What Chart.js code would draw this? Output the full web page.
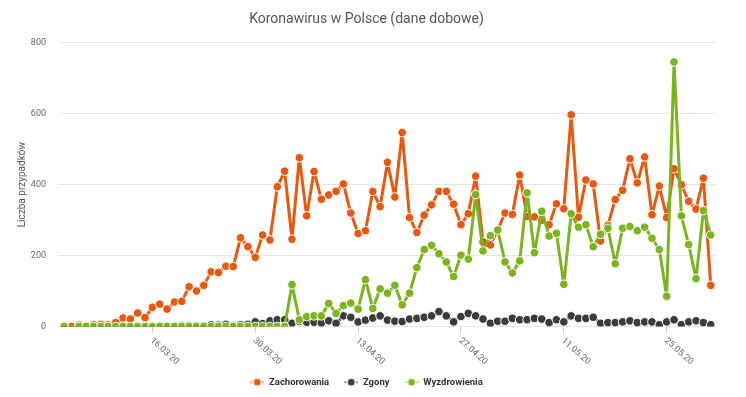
<!DOCTYPE html>
<html>
<head>
<meta charset="utf-8">
<script src="https://cdn.jsdelivr.net/npm/chart.js@4"></script>
<style>
  html, body { margin: 0; padding: 0; background: #fff; }
  #wrap { width: 746px; height: 397px; position: relative; }
</style>
</head>
<body>
<div id="wrap"><canvas id="dailyChart"></canvas></div>
<script>
// daily data, 04.03.20 - 31.05.20
const dates = [
  '04.03.20','05.03.20','06.03.20','07.03.20','08.03.20','09.03.20','10.03.20','11.03.20','12.03.20','13.03.20',
  '14.03.20','15.03.20','16.03.20','17.03.20','18.03.20','19.03.20','20.03.20','21.03.20','22.03.20','23.03.20',
  '24.03.20','25.03.20','26.03.20','27.03.20','28.03.20','29.03.20','30.03.20','31.03.20',
  '01.04.20','02.04.20','03.04.20','04.04.20','05.04.20','06.04.20','07.04.20','08.04.20','09.04.20','10.04.20',
  '11.04.20','12.04.20','13.04.20','14.04.20','15.04.20','16.04.20','17.04.20','18.04.20','19.04.20','20.04.20',
  '21.04.20','22.04.20','23.04.20','24.04.20','25.04.20','26.04.20','27.04.20','28.04.20','29.04.20','30.04.20',
  '01.05.20','02.05.20','03.05.20','04.05.20','05.05.20','06.05.20','07.05.20','08.05.20','09.05.20','10.05.20',
  '11.05.20','12.05.20','13.05.20','14.05.20','15.05.20','16.05.20','17.05.20','18.05.20','19.05.20','20.05.20',
  '21.05.20','22.05.20','23.05.20','24.05.20','25.05.20','26.05.20','27.05.20','28.05.20','29.05.20','30.05.20',
  '31.05.20'
];
const tickLabels = ['16.03.20', '30.03.20', '13.04.20', '27.04.20', '11.05.20', '25.05.20'];

const cases = [
  1, 0, 4, 1, 5, 6, 5, 11, 24, 21,
  38, 25, 54, 63, 49, 69, 71, 112, 100, 116,
  154, 152, 170, 169, 250, 225, 195, 258, 244, 394,
  438, 246, 476, 312, 437, 359, 371, 381, 402, 320,
  262, 270, 381, 338, 463, 365, 547, 307, 265, 314,
  343, 381, 381, 345, 287, 318, 424, 239, 230, 272,
  320, 316, 427, 310, 309, 300, 287, 346, 332, 597,
  308, 413, 402, 241, 285, 358, 384, 473, 405, 478,
  315, 396, 307, 445, 400, 353, 331, 418, 116
];
const deaths = [
  0, 0, 0, 0, 0, 0, 0, 0, 1, 0,
  1, 1, 0, 2, 1, 1, 3, 3, 2, 2,
  5, 4, 6, 3, 5, 6, 13, 8, 16, 19,
  19, 9, 14, 12, 12, 10, 16, 9, 30, 26,
  13, 18, 24, 30, 18, 15, 14, 21, 23, 26,
  30, 42, 30, 13, 28, 37, 30, 21, 9, 15,
  15, 23, 19, 19, 23, 21, 11, 19, 13, 30,
  23, 23, 26, 9, 11, 11, 13, 16, 11, 13,
  13, 5, 13, 19, 5, 13, 16, 11, 5
];
const recovered = [
  0, null, 0, 0, 0, 0, 0, 0, 0, 0,
  0, 0, 0, 0, 0, 0, 0, 0, 0, 0,
  0, 0, 0, 0, 0, 0, 0, 0, 0, 0,
  0, 118, 19, 28, 30, 30, 65, 37, 59, 66,
  49, 132, 51, 106, 94, 116, 61, 94, 166, 217,
  229, 205, 182, 141, 201, 190, 372, 213, 256, 272,
  182, 151, 185, 377, 208, 325, 255, 263, 119, 318,
  280, 287, 225, 260, 277, 177, 277, 282, 270, 280,
  249, 217, 85, 746, 312, 231, 135, 327, 258
];

const seriesNames = ['Zachorowania', 'Zgony', 'Wyzdrowienia'];
const seriesColors = ['#e8590f', '#3b3b3b', '#7ab51d'];

const chartEl = document.getElementById('dailyChart');

const toPoints = (arr) => arr.map((v, i) => ({ x: i, y: v }));

// legend marker: short line with a dot
const legendMarker = function (color) {
  const c = document.createElement('canvas');
  c.width = 14; c.height = 10;
  const g = c.getContext('2d');
  g.globalAlpha = 0.45;
  g.strokeStyle = color;
  g.lineWidth = 2;
  g.beginPath(); g.moveTo(0, 5); g.lineTo(14, 5); g.stroke();
  g.globalAlpha = 1;
  g.fillStyle = color;
  g.strokeStyle = '#fff';
  g.lineWidth = 1;
  g.beginPath(); g.arc(7, 5, 4, 0, Math.PI * 2); g.fill(); g.stroke();
  return c;
};

const makeDataset = (idx, values, order) => ({
  label: seriesNames[idx],
  data: toPoints(values),
  borderColor: seriesColors[idx],
  backgroundColor: seriesColors[idx],
  pointBackgroundColor: seriesColors[idx],
  pointBorderColor: '#fff',
  pointBorderWidth: 1,
  pointRadius: 4.3,
  borderWidth: 3,
  borderJoinStyle: 'round',
  spanGaps: true,
  order: order
});

// rotated date labels under the axis (start at the tick, go down-right)
const xLabels = {
  id: 'xLabels',
  afterDraw(chart) {
    const ctx = chart.ctx;
    const x = chart.scales.x;
    ctx.save();
    ctx.font = '9px Roboto';
    ctx.fillStyle = '#666';
    ctx.textAlign = 'left';
    ctx.textBaseline = 'middle';
    tickLabels.forEach((label) => {
      const px = x.getPixelForValue(dates.indexOf(label));
      ctx.save();
      ctx.translate(px - 1, x.top + 13);
      ctx.rotate(42 * Math.PI / 180);
      ctx.fillText(label, 0, 0);
      ctx.restore();
    });
    ctx.restore();
  }
};

new Chart(chartEl, {
  type: 'line',
  data: {
    datasets: [
      makeDataset(0, cases, 1),
      makeDataset(1, deaths, 2),
      makeDataset(2, recovered, 0)
    ]
  },
  plugins: [xLabels],
  options: {
    responsive: true,
    maintainAspectRatio: false,
    animation: false,
    layout: { padding: { left: 16, right: 29, top: 0, bottom: 0 } },
    plugins: {
      title: {
        display: true,
        text: 'Koronawirus w Polsce (dane dobowe)',
        color: '#555',
        font: { family: 'Roboto', size: 14, weight: 'normal' },
        padding: { top: 11, bottom: 15 }
      },
      legend: {
        position: 'bottom',
        labels: {
          usePointStyle: true,
          pointStyleWidth: 14,
          boxHeight: 10,
          padding: 15,
          color: '#333',
          font: { family: 'Roboto', size: 9.5, weight: 'bold' },
          sort: (a, b) => a.datasetIndex - b.datasetIndex,
          generateLabels: (chart) => {
            const items = Chart.defaults.plugins.legend.labels.generateLabels(chart);
            items.forEach((it) => { it.pointStyle = legendMarker(seriesColors[it.datasetIndex]); });
            return items;
          }
        }
      },
      tooltip: { enabled: false }
    },
    scales: {
      x: {
        type: 'linear',
        min: -0.85,
        max: 88.85,
        grid: { drawOnChartArea: false, drawTicks: true, tickLength: 6, color: '#ccc' },
        border: { display: false },
        ticks: { display: false },
        afterBuildTicks: (axis) => {
          axis.ticks = tickLabels.map((l) => ({ value: dates.indexOf(l) }));
        },
        afterFit: (axis) => { axis.height = 36; }
      },
      y: {
        min: 0,
        max: 800,
        ticks: { stepSize: 200, color: '#666', padding: 12, font: { family: 'Roboto', size: 9 } },
        grid: { color: '#e6e6e6', drawTicks: false },
        border: { display: false },
        title: {
          display: true,
          text: 'Liczba przypadków',
          color: '#555',
          font: { family: 'Roboto', size: 10 },
          padding: { top: 0, bottom: 0 }
        },
        afterFit: (axis) => { axis.width = 42; }
      }
    }
  }
});
</script>
</body>
</html>
